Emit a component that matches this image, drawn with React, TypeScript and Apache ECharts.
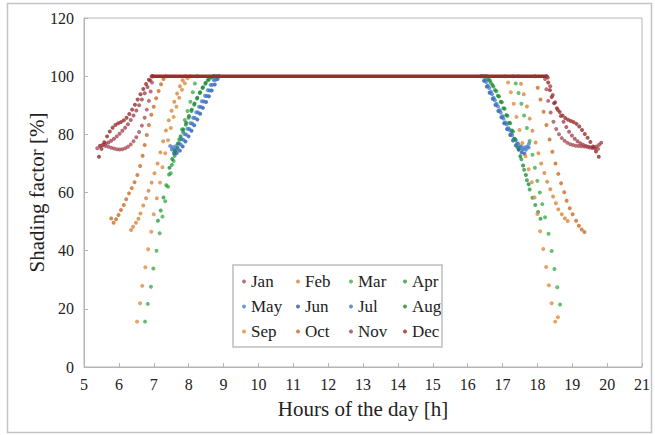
import React, { useEffect, useRef } from 'react';
import * as echarts from 'echarts';

type P = [number, number];

const monthNames = ['Jan', 'Feb', 'Mar', 'Apr', 'May', 'Jun', 'Jul', 'Aug', 'Sep', 'Oct', 'Nov', 'Dec'];
const monthColors = ['#A6505A', '#D9843A', '#3FAE4E', '#2B9E3F', '#5380C6', '#2C5AAE', '#3B78C8', '#1F8A3A', '#DE8C40', '#CC6A26', '#A24450', '#962A2A'];

const xTicks = { min: 5, max: 21, step: 1 };
const yTicks = { min: 0, max: 120, step: 20 };

const janData: P[] = [
  [5.38, 75.2], [5.46, 76.1], [5.54, 76.2], [5.62, 76], [5.7, 75.7], [5.78, 75.4], [5.86, 75.1], [5.94, 74.9], [6.02, 74.8], [6.1, 74.9], [6.18, 75.2], [6.26, 75.7], [6.34, 76.5], [6.42, 77.6], [6.5, 79], [6.58, 80.8], [6.66, 83], [6.74, 85.7], [6.8, 88.5], [6.86, 91.5], [6.91, 94.7], [6.95, 97.8], [6.98, 100],
  [18.22, 99], [18.26, 95.5], [18.31, 91.5], [18.38, 87.5], [18.46, 84.3], [18.54, 81.8], [18.62, 80], [18.7, 78.7], [18.78, 77.8], [18.86, 77.1], [18.94, 76.6], [19.02, 76.3], [19.1, 76.1], [19.18, 76], [19.26, 75.9], [19.34, 75.8], [19.42, 75.7], [19.5, 75.5], [19.58, 75.3], [19.66, 75.1], [19.74, 75],
];
const febData: P[] = [
  [6.35, 47.1], [6.41, 48.2], [6.49, 49.6], [6.56, 51], [6.62, 52.8], [6.7, 55.5], [6.78, 58], [6.85, 60.6], [6.94, 63.4], [7.02, 66.6], [7.11, 70], [7.19, 73.8], [7.27, 77.6], [7.35, 81.3], [7.43, 84.8], [7.51, 88.1], [7.59, 91.2], [7.67, 94], [7.75, 96.5], [7.83, 98.6], [7.91, 100],
  [17.45, 100], [17.53, 97.4], [17.61, 93.8], [17.7, 89.6], [17.78, 85.4], [17.86, 81.2], [17.95, 77.2], [18.03, 73.5], [18.11, 70], [18.2, 66.7], [18.28, 63.7], [18.37, 61.1], [18.45, 58.6], [18.53, 56.3], [18.6, 54.2], [18.7, 52.5], [18.79, 51.1], [18.87, 50.2],
];
const marData: P[] = [
  [6.75, 15.6], [6.83, 21.7], [6.92, 27.6], [6.99, 33.9], [7.08, 40], [7.17, 46], [7.25, 51.7], [7.33, 57], [7.41, 62], [7.49, 66.6], [7.57, 70.8], [7.65, 74.7], [7.73, 78.3], [7.81, 81.7], [7.89, 84.9], [7.97, 88], [8.05, 91.2], [8.12, 94.5], [8.18, 97.5], [8.24, 100],
  [17.3, 100], [17.38, 97.5], [17.46, 94.2], [17.54, 90.5], [17.62, 86.5], [17.7, 82.2], [17.78, 77.7], [17.86, 73], [17.93, 68.5], [18.0, 64], [18.07, 60], [18.14, 56], [18.22, 51.5], [18.32, 45.8], [18.41, 39.9], [18.49, 33.7], [18.57, 27.4], [18.65, 21.5],
];
const aprData: P[] = [
  [7.12, 50.3], [7.2, 53.8], [7.28, 58.3], [7.36, 62.5], [7.44, 66.2], [7.52, 69.5], [7.6, 72.6], [7.68, 75.5], [7.76, 78.2], [7.84, 80.8], [7.92, 83.3], [8.0, 85.7], [8.08, 88], [8.16, 90.2], [8.24, 92.3], [8.32, 94.2], [8.4, 95.9], [8.48, 97.4], [8.56, 98.6], [8.64, 99.5], [8.72, 100],
  [16.5, 100], [16.58, 99], [16.66, 97.8], [16.74, 96.4], [16.82, 94.8], [16.9, 93], [16.98, 91], [17.06, 88.8], [17.14, 86.4], [17.22, 83.8], [17.3, 81], [17.38, 78], [17.46, 74.8], [17.54, 71.4], [17.62, 67.8], [17.7, 64.2], [17.78, 61], [17.86, 58.2], [17.94, 55.7], [18.02, 53.3], [18.09, 51],
];
const mayData: P[] = [
  [7.47, 76], [7.55, 75.6], [7.63, 75.9], [7.72, 76.9], [7.8, 78.4], [7.88, 80.1], [7.97, 81.9], [8.05, 83.8], [8.13, 85.7], [8.22, 87.6], [8.3, 89.5], [8.38, 91.4], [8.47, 93.3], [8.55, 95.2], [8.63, 97], [8.72, 98.7], [8.8, 100],
  [16.45, 100], [16.53, 98], [16.62, 95.9], [16.7, 93.8], [16.78, 91.7], [16.87, 89.6], [16.95, 87.5], [17.03, 85.4], [17.12, 83.4], [17.2, 81.5], [17.28, 79.7], [17.37, 78.1], [17.45, 76.8], [17.53, 75.9], [17.62, 75.5], [17.7, 75.8], [17.76, 76.8],
];
const junData: P[] = [
  [7.58, 73.5], [7.66, 73.6], [7.75, 74.4], [7.83, 75.8], [7.91, 77.5], [8.0, 79.3], [8.08, 81.2], [8.16, 83.1], [8.25, 85.1], [8.33, 87.1], [8.41, 89.1], [8.5, 91.1], [8.58, 93.1], [8.66, 95.1], [8.75, 97.1], [8.83, 99], [8.88, 100],
  [16.38, 100], [16.47, 98.4], [16.55, 96.4], [16.63, 94.3], [16.72, 92.2], [16.8, 90.1], [16.88, 88], [16.97, 85.9], [17.05, 83.8], [17.13, 81.8], [17.22, 79.8], [17.3, 77.9], [17.38, 76.2], [17.47, 74.8], [17.55, 73.8], [17.63, 73.3],
];
const julData: P[] = [
  [7.52, 74.8], [7.6, 74.6], [7.68, 75.2], [7.77, 76.5], [7.85, 78.1], [7.93, 79.9], [8.02, 81.8], [8.1, 83.7], [8.18, 85.6], [8.27, 87.5], [8.35, 89.4], [8.43, 91.3], [8.52, 93.2], [8.6, 95.1], [8.68, 97], [8.77, 98.8], [8.84, 100],
  [16.42, 100], [16.5, 98.7], [16.58, 96.7], [16.67, 94.6], [16.75, 92.5], [16.83, 90.4], [16.92, 88.3], [17.0, 86.2], [17.08, 84.1], [17.17, 82.1], [17.25, 80.2], [17.33, 78.4], [17.42, 76.8], [17.5, 75.6], [17.58, 74.8], [17.67, 74.7], [17.75, 75.5],
];
const augData: P[] = [
  [7.45, 68.5], [7.53, 71.5], [7.61, 74.2], [7.69, 76.8], [7.77, 79.3], [7.85, 81.7], [7.93, 84], [8.01, 86.3], [8.09, 88.5], [8.17, 90.6], [8.25, 92.6], [8.33, 94.5], [8.41, 96.2], [8.49, 97.7], [8.57, 98.9], [8.65, 99.7], [8.73, 100],
  [16.55, 100], [16.63, 98.6], [16.71, 97], [16.79, 95.2], [16.87, 93.3], [16.95, 91.2], [17.03, 89], [17.11, 86.6], [17.19, 84], [17.27, 81.3], [17.35, 78.5], [17.43, 75.6], [17.51, 72.5], [17.59, 69.3], [17.67, 66], [17.75, 62.8],
];
const sepData: P[] = [
  [6.52, 15.6], [6.61, 21.9], [6.67, 27.9], [6.76, 34.3], [6.84, 40.5], [6.93, 46.5], [7.0, 52.5], [7.09, 58], [7.18, 63.4], [7.25, 68.7], [7.33, 73.5], [7.41, 78], [7.49, 82.2], [7.57, 86], [7.65, 89.5], [7.73, 92.6], [7.81, 95.3], [7.89, 97.6], [7.97, 99.3], [8.05, 100],
  [17.07, 100], [17.16, 97.8], [17.24, 94.5], [17.32, 90.5], [17.4, 86], [17.49, 81.5], [17.57, 77], [17.66, 72.5], [17.75, 68], [17.84, 63.5], [17.92, 58.3], [18.0, 52.6], [18.08, 46.7], [18.17, 40.6], [18.25, 34.4], [18.33, 28.1], [18.41, 21.9], [18.51, 15.6], [18.59, 17.1],
];
const octData: P[] = [
  [5.78, 51.1], [5.85, 49.6], [5.92, 50.8], [5.99, 52.3], [6.06, 54], [6.14, 55.7], [6.21, 57.7], [6.29, 59.7], [6.37, 61.5], [6.45, 63.5], [6.53, 66], [6.61, 69.1], [6.68, 72.6], [6.74, 76.3], [6.8, 79.8], [6.86, 83.2], [6.93, 86.7], [7.0, 89.5], [7.07, 92.4], [7.14, 94.9], [7.21, 97.2], [7.28, 99], [7.35, 100],
  [17.93, 100], [18.01, 96], [18.09, 92], [18.18, 87.8], [18.26, 83.2], [18.35, 78.2], [18.43, 74], [18.52, 70], [18.6, 66.4], [18.68, 63.2], [18.77, 60.1], [18.84, 57.2], [18.93, 54.6], [19.01, 52.5], [19.11, 50.3], [19.19, 48.6], [19.27, 47.3], [19.35, 46.4],
];
const novData: P[] = [
  [5.46, 76], [5.54, 76.4], [5.62, 76.8], [5.7, 77.2], [5.78, 77.8], [5.86, 78.5], [5.94, 79.3], [6.02, 80.2], [6.1, 81.2], [6.18, 82.3], [6.26, 83.5], [6.34, 84.9], [6.42, 86.5], [6.5, 88.2], [6.58, 90], [6.66, 92], [6.74, 94.1], [6.82, 96.3], [6.9, 98.5], [6.96, 100],
  [18.3, 99.5], [18.37, 96.5], [18.44, 93.5], [18.51, 91], [18.59, 88.4], [18.67, 86.3], [18.75, 84.3], [18.83, 82.5], [18.91, 80.9], [18.99, 79.6], [19.07, 78.5], [19.15, 77.6], [19.23, 76.9], [19.31, 76.4], [19.39, 76], [19.47, 75.7], [19.55, 75.5], [19.63, 75.5], [19.7, 75.8], [19.77, 76.4], [19.83, 77.1],
];
const decData: P[] = [
  [5.43, 72.3], [5.5, 75], [5.58, 77.3], [5.66, 79.3], [5.74, 81], [5.82, 82.3], [5.9, 83.2], [5.98, 83.8], [6.06, 84.2], [6.14, 84.8], [6.22, 85.7], [6.3, 87], [6.38, 88.5], [6.46, 90.2], [6.54, 92], [6.62, 93.8], [6.7, 95.6], [6.78, 97.3], [6.86, 98.8], [6.94, 100],
  [18.27, 100], [18.31, 97.8], [18.36, 95.2], [18.41, 92.8], [18.48, 90.7], [18.56, 89], [18.64, 87.7], [18.72, 86.5], [18.8, 85.6], [18.88, 85], [18.96, 84.6], [19.04, 84.2], [19.12, 83.6], [19.2, 82.7], [19.28, 81.5], [19.36, 80.1], [19.44, 78.8], [19.52, 77.4], [19.6, 75.8], [19.68, 74.1], [19.76, 72.3],
];
// full-shading plateau (all months overlap at 100 %)
const plateauData: P[] = [[6.95, 100], [18.27, 100]];

const monthData: P[][] = [janData, febData, marData, aprData, mayData, junData, julData, augData, sepData, octData, novData, decData];

const legendColumns = [
  ['Jan', 'May', 'Sep'],
  ['Feb', 'Jun', 'Oct'],
  ['Mar', 'Jul', 'Nov'],
  ['Apr', 'Aug', 'Dec'],
];

const SERIF = 'Liberation Serif';

export default function App() {
  const ref = useRef<HTMLDivElement>(null);
  useEffect(() => {
    document.body.style.margin = '0';
    const chart = echarts.init(ref.current!, null, { renderer: 'svg' });
    const axisGray = '#b4b4b4';
    const option: any = {
      animation: false,
      backgroundColor: '#ffffff',
      textStyle: { fontFamily: SERIF },
      grid: { left: 84, right: 13, top: 18, bottom: 68, show: true, borderColor: axisGray, borderWidth: 1 },
      xAxis: {
        type: 'value', min: xTicks.min, max: xTicks.max, interval: xTicks.step,
        name: 'Hours of the day [h]', nameLocation: 'middle', nameGap: 31,
        nameTextStyle: { fontFamily: SERIF, fontSize: 21, color: '#222' },
        axisLine: { show: true, lineStyle: { color: axisGray } },
        axisTick: { show: true, inside: true, length: 4, lineStyle: { color: axisGray } },
        axisLabel: { fontFamily: SERIF, fontSize: 16, color: '#222', margin: 9 },
        splitLine: { show: false },
      },
      yAxis: {
        type: 'value', min: yTicks.min, max: yTicks.max, interval: yTicks.step,
        name: 'Shading factor [%]', nameLocation: 'middle', nameGap: 37, nameRotate: 90,
        nameMoveOverlap: false,
        nameTextStyle: { fontFamily: SERIF, fontSize: 21, color: '#222' },
        axisLine: { show: true, lineStyle: { color: axisGray } },
        axisTick: { show: true, inside: true, length: 4, lineStyle: { color: axisGray } },
        axisLabel: { fontFamily: SERIF, fontSize: 16, color: '#222', margin: 10 },
        splitLine: { show: false },
      },
      legend: legendColumns.map((names, i) => ({
        orient: 'vertical',
        left: [242, 296, 349, 403][i],
        top: 273,
        padding: 0,
        itemGap: 8,
        itemWidth: 4,
        itemHeight: 4,
        icon: 'circle',
        selectedMode: false,
        data: names,
        textStyle: { fontFamily: SERIF, fontSize: 17, color: '#222', lineHeight: 17 },
      })),
      graphic: [
        {
          type: 'rect', z: 100, silent: true,
          shape: { x: 233, y: 265, width: 209, height: 82 },
          style: { fill: 'none', stroke: '#bdbdbd', lineWidth: 1.5 },
        },
        {
          type: 'rect', z: -1, silent: true,
          shape: { x: 7.5, y: 3.5, width: 644, height: 429 },
          style: { fill: 'none', stroke: '#c4c4c4', lineWidth: 1.5 },
        },
      ],
      series: [
        ...monthNames.map((name, i) => ({
          name,
          type: 'scatter',
          data: monthData[i],
          symbol: 'circle',
          symbolSize: 4,
          itemStyle: { color: monthColors[i] },
          z: 2 + i * 0.01,
        })),
        {
          name: 'plateau',
          type: 'line',
          data: plateauData,
          symbol: 'none',
          lineStyle: { color: '#992E2E', width: 3.5 },
          z: 5,
        },
      ],
    };
    chart.setOption(option);
    return () => chart.dispose();
  }, []);
  return <div ref={ref} style={{ width: 655, height: 435 }} />;
}
